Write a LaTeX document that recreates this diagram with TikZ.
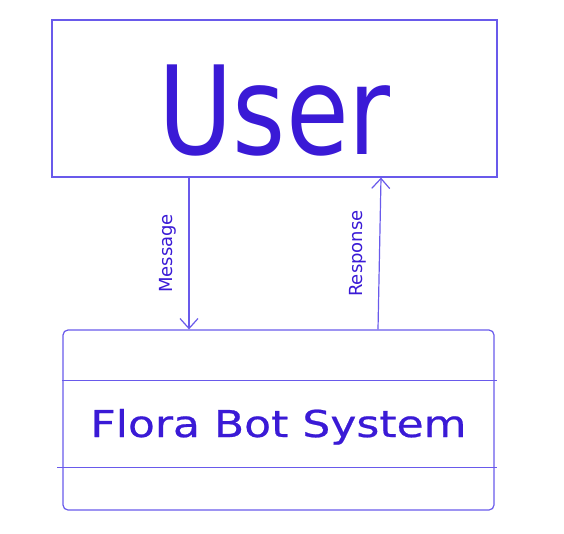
\documentclass[tikz,border=0pt]{standalone}
\usepackage{fontspec}
\setmainfont{DejaVu Sans}
\newfontfamily\userfont[FakeStretch=0.83]{DejaVu Sans}
\newfontfamily\sysfont[FakeStretch=1.19, FakeBold=0.6]{DejaVu Sans}
\usetikzlibrary{arrows.meta}
\definecolor{ink}{RGB}{58,26,214}
\definecolor{edge}{RGB}{105,90,235}
\begin{document}
\begin{tikzpicture}[x=1pt, y=-1pt, line width=1.2pt,
    box/.style={draw=edge, text=ink, inner sep=0pt},
    flow/.style={draw=edge, -{Straight Barb[length=10pt, width=18pt]}},
    tag/.style={text=ink, font=\fontsize{18}{18}\selectfont, rotate=90, above=9pt}]
    \useasboundingbox (0, 0) rectangle (564, 534);

    \node [box, minimum width=445pt, minimum height=157pt, text height=113pt, text depth=0pt,
        font=\userfont\fontsize{123}{123}\selectfont] (user) at (274.5, 98.5) {User};
    \node [box, rounded corners=5pt, minimum width=431pt, minimum height=180pt, text height=34pt, text depth=0pt,
        font=\sysfont\fontsize{37}{37}\selectfont] (sys) at (278.5, 420) {Flora Bot System};

    \draw [edge] ([yshift=-51pt]sys.north west) -- ([xshift=2pt, yshift=-51pt]sys.north east);
    \draw [edge] ([xshift=-5pt, yshift=43pt]sys.south west) -- ([xshift=2pt, yshift=43pt]sys.south east);

    \draw [flow] ([xshift=-85.5pt]user.south) -- node [tag, midway] {Message} ([xshift=-89.5pt]sys.north);
    \draw [flow] ([xshift=99.5pt]sys.north) -- node [tag, midway] {Response} ([xshift=106.5pt]user.south);
\end{tikzpicture}
\end{document}
